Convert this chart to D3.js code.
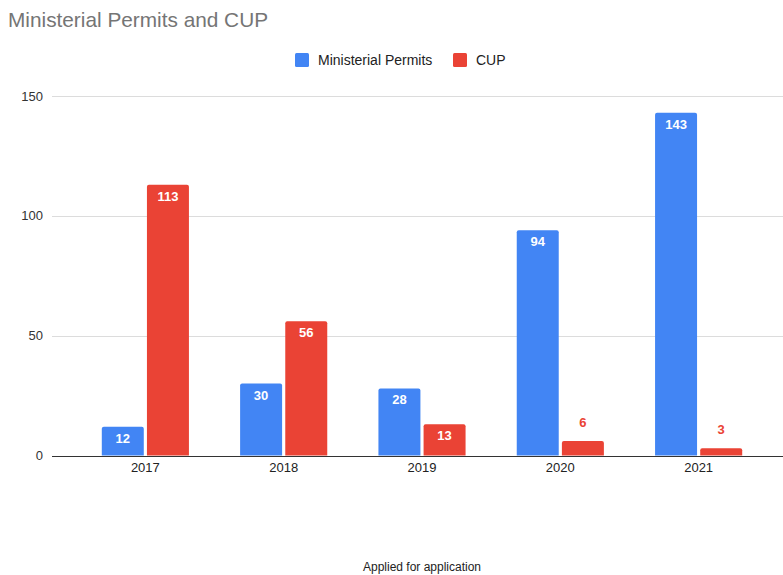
<!DOCTYPE html>
<html>
<head>
<meta charset="utf-8">
<script src="https://cdn.jsdelivr.net/npm/d3@7"></script>
<style>
  body { margin: 0; background: #fff; }
  text { font-family: Arial, "Liberation Sans", sans-serif; }
</style>
</head>
<body>
<div id="chart"></div>
<script>
const years = ['2017', '2018', '2019', '2020', '2021'];
const seriesNames = ['Ministerial Permits', 'CUP'];
const ministerial = [12, 30, 28, 94, 143];
const cup = [113, 56, 13, 6, 3];
const yTicks = [0, 50, 100, 150];
const colors = ['#4285f4', '#ea4335'];

const width = 783,
    height = 575;

const svg = d3.select('#chart').append('svg').attr('width', width).attr('height', height);

const x = d3.scaleBand().domain(years).range([52, 792]).paddingInner(0.37).paddingOuter(0.36);
const xs = d3.scaleBand().domain(seriesNames).range([0, x.bandwidth()]).paddingInner(0.07);
const y = d3.scaleLinear().domain([0, 150]).range([455.5, 96]);

// title
svg.append('text')
    .attr('x', 8)
    .attr('y', 27)
    .attr('fill', '#757575')
    .style('font-size', '20.8px')
    .text('Ministerial Permits and CUP');

// legend
const legend = svg.append('g').attr('transform', 'translate(295, 53)');
const legendX = [0, 158];
seriesNames.forEach((name, i) => {
    const g = legend.append('g').attr('transform', `translate(${legendX[i]}, 0)`);
    g.append('rect').attr('width', 14).attr('height', 14).attr('rx', 1.5).attr('fill', colors[i]);
    g.append('text')
        .attr('x', 23)
        .attr('y', 12)
        .attr('fill', '#222')
        .style('font-size', '14px')
        .text(name);
});

// gridlines + y labels
const grid = svg.append('g');
grid.selectAll('line')
    .data(yTicks)
    .enter()
    .append('line')
    .attr('x1', 52)
    .attr('x2', width)
    .attr('y1', (d) => Math.round(y(d)) + 0.5)
    .attr('y2', (d) => Math.round(y(d)) + 0.5)
    .attr('stroke', (d) => (d === 0 ? '#333' : '#dcdcdc'))
    .attr('stroke-width', 1);

grid.selectAll('text')
    .data(yTicks)
    .enter()
    .append('text')
    .attr('x', 43)
    .attr('y', (d) => y(d) + 4.5)
    .attr('text-anchor', 'end')
    .attr('fill', '#333')
    .style('font-size', '13px')
    .text((d) => d);

// bars
const rows = years.map((yr, i) => ({ year: yr, values: [ministerial[i], cup[i]] }));

const groups = svg
    .append('g')
    .selectAll('g')
    .data(rows)
    .enter()
    .append('g')
    .attr('transform', (d) => `translate(${x(d.year)}, 0)`);

groups
    .selectAll('path')
    .data((d) => d.values.map((v, i) => ({ name: seriesNames[i], value: v, i: i })))
    .enter()
    .append('path')
    .attr('fill', (d) => colors[d.i])
    .attr('d', (d) => {
        const x0 = xs(d.name),
            w = xs.bandwidth(),
            top = y(d.value),
            bot = y(0),
            r = Math.min(2, (bot - top) / 2);
        return `M${x0},${bot}V${top + r}Q${x0},${top} ${x0 + r},${top}H${x0 + w - r}Q${x0 + w},${top} ${x0 + w},${top + r}V${bot}Z`;
    });

groups
    .selectAll('text')
    .data((d) => d.values.map((v, i) => ({ name: seriesNames[i], value: v, i: i })))
    .enter()
    .append('text')
    .attr('x', (d) => xs(d.name) + xs.bandwidth() / 2)
    .attr('y', (d) => (y(0) - y(d.value) > 20 ? y(d.value) + 16 : y(d.value) - 14))
    .attr('text-anchor', 'middle')
    .attr('fill', (d) => (y(0) - y(d.value) > 20 ? '#fff' : colors[d.i]))
    .style('font-size', '13px')
    .style('font-weight', 'bold')
    .text((d) => d.value);

// x labels
svg.append('g')
    .selectAll('text')
    .data(years)
    .enter()
    .append('text')
    .attr('x', (d) => x(d) + x.bandwidth() / 2)
    .attr('y', 472)
    .attr('text-anchor', 'middle')
    .attr('fill', '#222')
    .style('font-size', '13px')
    .text((d) => d);

// axis title
svg.append('text')
    .attr('x', 422)
    .attr('y', 571)
    .attr('text-anchor', 'middle')
    .attr('fill', '#222')
    .style('font-size', '12px')
    .text('Applied for application');
</script>
</body>
</html>
